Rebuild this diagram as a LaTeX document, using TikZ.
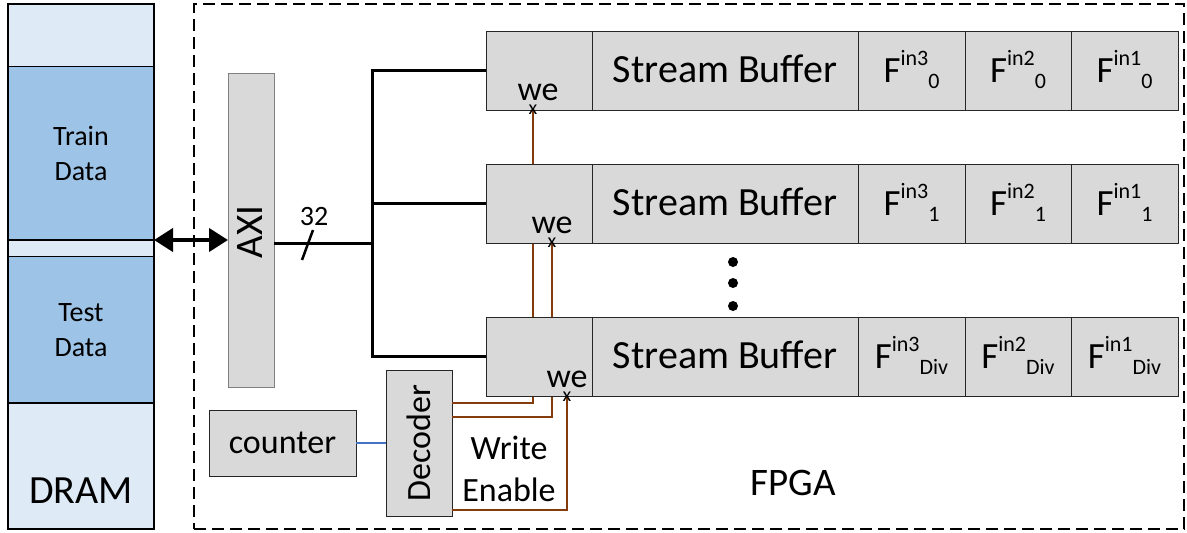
\documentclass[tikz,border=0pt]{standalone}
\usepackage{fontspec}
\setmainfont{Carlito}
\usetikzlibrary{arrows.meta}
\definecolor{lightblue}{HTML}{DEEBF7}
\definecolor{darkblue}{HTML}{9DC3E6}
\definecolor{boxgray}{HTML}{D9D9D9}
\definecolor{brownline}{HTML}{843C0C}
\definecolor{blueline}{HTML}{4472C4}
\newcommand\fsz[1]{\fontsize{#1}{#1}\selectfont}
\newcommand\Fin[2]{\fsz{37}F\raisebox{17pt}{\fsz{22}in#1}\raisebox{-6pt}{\fsz{22}#2}}
\begin{document}
\begin{tikzpicture}[x=1pt,y=-1pt,
  cell/.style={draw=black!85, line width=0.9pt, fill=boxgray, inner sep=0pt, outer sep=0pt,
    anchor=north west, minimum height=79pt, text height=24pt, text depth=0pt},
  graybox/.style={draw=black!85, line width=0.9pt, fill=boxgray, inner sep=0pt, outer sep=0pt, anchor=north west},
  dram/.style={draw=black, line width=1.5pt, inner sep=0pt, outer sep=0pt, anchor=north west, minimum width=146pt},
  bus/.style={line width=3pt},
  wire/.style={brownline, line width=2.6pt},
  lbl/.style={inner sep=0pt, anchor=base},
  dot/.style={circle, fill=black, minimum size=10pt, inner sep=0pt}
]
\useasboundingbox (0,0) rectangle (1187,533);

% FPGA region
\node[draw, line width=2pt, dash pattern=on 12pt off 6pt, anchor=north west,
  minimum width=990pt, minimum height=525pt, inner sep=0pt, outer sep=0pt] (fpga) at (194,4) {};
\node[font=\fsz{39}] (fpgalbl) at (793,482.5) {FPGA};

% DRAM column
\node[dram, fill=lightblue, minimum height=62.5pt] (dtop) at (8,4) {};
\node[dram, fill=darkblue, minimum height=173.5pt, align=center, font=\fontsize{28}{35}\selectfont] (train) at (8,66.5) {Train\\Data};
\node[dram, fill=lightblue, minimum height=16.5pt] (gap) at (8,240) {};
\node[dram, fill=darkblue, minimum height=146.5pt, align=center, font=\fontsize{28}{35}\selectfont] (test) at (8,256.5) {Test\\Data};
\node[dram, fill=lightblue, minimum height=126pt] (dbot) at (8,403) {};
\node[font=\fsz{40}] (dramlbl) at (81,491) {DRAM};

% coordinates for bus and write-enable ends
\coordinate (bj) at (372,243);
\coordinate (m1) at (533,110);
\coordinate (m2) at (552,243);
\coordinate (m3) at (567,397);

% AXI, counter, decoder
\node[graybox, draw=black!50, minimum width=46pt, minimum height=314pt] (axi) at (228,73) {};
\node[rotate=90, font=\fsz{39}] (axilbl) at (250,232) {AXI};
\node[graybox, minimum width=147pt, minimum height=66pt, font=\fsz{34}] (counter) at (209,410) {counter};
\node[graybox, minimum width=66pt, minimum height=146pt] (dec) at (386,370) {};
\node[rotate=90, font=\fsz{34}] (declbl) at (dec.center) {Decoder};
\node[align=center, font=\fontsize{34}{42}\selectfont] (wen) at (509,469) {Write\\Enable};

% write-enable wires (drawn beneath the buffer rows)
\draw[wire] ([yshift=40pt]dec.east) -| (m1);
\draw[wire] ([yshift=26pt]dec.east) -| (m2);
\draw[wire] ([yshift=-67pt]dec.east) -| (m3);
\draw[blueline, line width=2.6pt] (counter.east) -- (dec.west);

% buffer rows
\foreach \r/\t/\s in {1/31/0, 2/164/1, 3/317/Div}{
  \node[cell, minimum width=106pt] (c0-\r) at (486,\t) {};
  \node[cell, minimum width=266pt, font=\fsz{40}] (sb-\r) at (c0-\r.north east) {Stream Buffer};
  \node[cell, minimum width=107pt] (f3-\r) at (sb-\r.north east) {\Fin{3}{\s}};
  \node[cell, minimum width=106pt] (f2-\r) at (f3-\r.north east) {\Fin{2}{\s}};
  \node[cell, minimum width=107pt] (f1-\r) at (f2-\r.north east) {\Fin{1}{\s}};
}

% we labels and markers
\node[lbl, font=\fsz{34}] (we1) at (538,100) {we};
\node[lbl, font=\fsz{34}] (we2) at (552,233) {we};
\node[lbl, font=\fsz{34}] (we3) at (567,387) {we};
\node[font=\fsz{20}, inner sep=0pt] (x1) at (m1) {x};
\node[font=\fsz{20}, inner sep=0pt] (x2) at (m2) {x};
\node[font=\fsz{20}, inner sep=0pt] (x3) at (m3) {x};

% bus
\draw[bus] (axi.east |- bj) -- (bj);
\draw[bus] (c0-1.west) -- (c0-1.west -| bj) -- (c0-3.west -| bj) -- (c0-3.west);
\draw[bus] (c0-2.west -| bj) -- (c0-2.west);
\draw[line width=2.5pt] (302,260) -- (313,230);
\node[font=\fsz{28}] (w32) at (314,217) {32};

% DRAM <-> AXI
\draw[line width=4pt, {Triangle[length=19pt,width=23pt]}-{Triangle[length=19pt,width=23pt]}]
  (train.south east) -- (axi.west |- train.south east);

% dots
\node[dot] (dot1) at (733,262) {};
\node[dot] (dot2) at (733,283) {};
\node[dot] (dot3) at (733,306) {};
\end{tikzpicture}
\end{document}
